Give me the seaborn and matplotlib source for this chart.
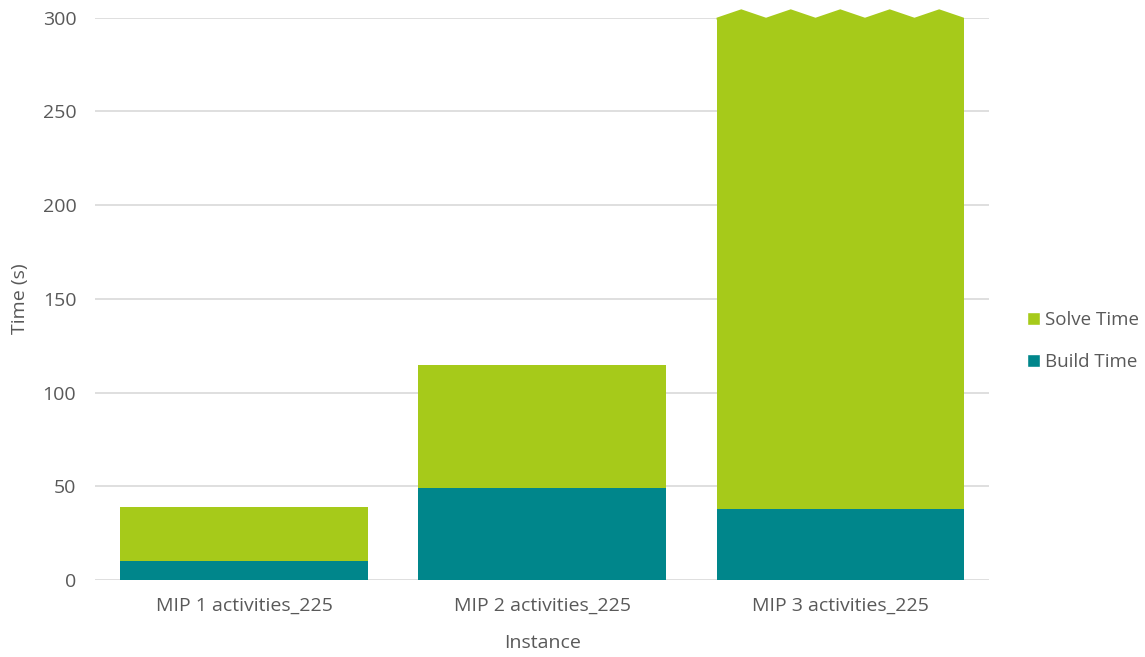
import matplotlib
matplotlib.use("Agg")
import matplotlib.pyplot as plt
import seaborn as sns
import numpy as np
import pandas as pd
from matplotlib.patches import Polygon, Patch

# Timings per instance (seconds)
instances = ["MIP 1 activities_225", "MIP 2 activities_225", "MIP 3 activities_225"]
build_time = [10, 49, 38]
solve_time = [29, 66, 262]
y_ticks = [0, 50, 100, 150, 200, 250, 300]

solve_color = "#A6CA1A"
build_color = "#00868B"
text_color = "#595959"

sns.set_theme(style="white")
plt.rcParams["font.family"] = ["Open Sans", "DejaVu Sans"]

df = pd.DataFrame({
    "Instance": instances,
    "Build Time": build_time,
    "Solve Time": solve_time,
})
df["Total"] = df["Build Time"] + df["Solve Time"]

fig = plt.figure(figsize=(11.45, 6.57), dpi=100)
ax = fig.add_axes([0.083, 0.117, 0.781, 0.856])

sns.barplot(data=df, x="Instance", y="Total", color=solve_color, width=0.83,
            saturation=1, linewidth=0, ax=ax, zorder=2)
sns.barplot(data=df, x="Instance", y="Build Time", color=build_color, width=0.83,
            saturation=1, linewidth=0, ax=ax, zorder=3)

ax.set_ylim(0, 300)
ax.set_xlim(-0.5, 2.5)
ax.set_yticks(y_ticks)
ax.yaxis.grid(True, color="#D9D9D9", linewidth=1.2, zorder=0)
ax.set_axisbelow(True)
for s in ax.spines.values():
    s.set_visible(False)

fs = 14
ax.tick_params(axis="both", length=0, labelsize=fs, colors=text_color)
ax.tick_params(axis="y", pad=13.5)
ax.tick_params(axis="x", pad=12)
ax.set_xlabel("Instance", fontsize=fs, color=text_color, labelpad=14)
ax.set_ylabel("Time (s)", fontsize=fs, color=text_color, labelpad=10)

# Broken-axis zigzag cap on the bar that runs off the scale
last = ax.patches[len(instances) - 1]
x0, w = last.get_x(), last.get_width()
top = last.get_height()
n_teeth = 5
xs = np.linspace(x0, x0 + w, 2 * n_teeth + 1)
amp = 4.5
ys = [top + (amp if i % 2 else 0) for i in range(len(xs))]
pts = [(x0, top - 1)] + list(zip(xs, ys)) + [(x0 + w, top - 1)]
ax.add_patch(Polygon(pts, closed=True, facecolor=solve_color, edgecolor="none",
                     clip_on=False, zorder=2))

handles = [Patch(facecolor=solve_color, label="Solve Time"),
           Patch(facecolor=build_color, label="Build Time")]
leg = ax.legend(handles=handles, loc="center left", bbox_to_anchor=(1.034, 0.425),
                frameon=False, fontsize=13.5, handlelength=0.7, handleheight=0.7,
                handletextpad=0.25, labelspacing=1.3, borderaxespad=0)
for t in leg.get_texts():
    t.set_color(text_color)

fig.savefig("out.png", dpi=100)
